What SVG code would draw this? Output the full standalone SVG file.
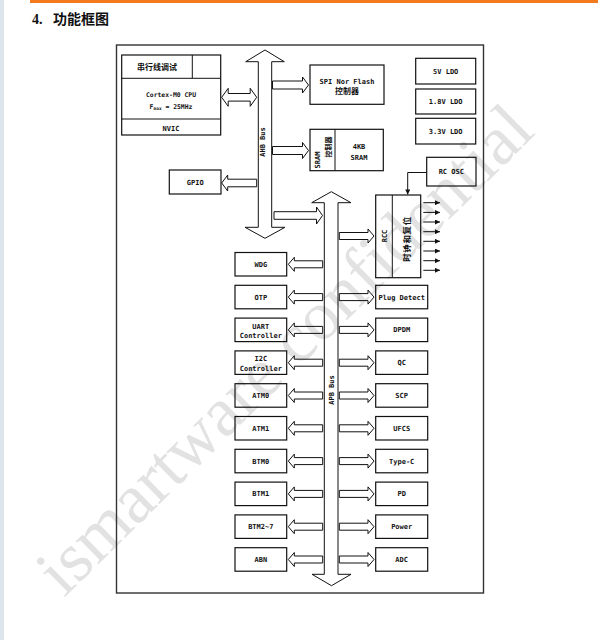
<svg xmlns="http://www.w3.org/2000/svg" width="598" height="640" viewBox="0 0 598 640">
<style>
.box{fill:none;stroke:#111;stroke-width:1.2}
.frame{fill:none;stroke:#333;stroke-width:1.4}
.ar{fill:none;stroke:#111;stroke-width:1}
.ln{fill:none;stroke:#111;stroke-width:1}
.t{font-family:"DejaVu Sans Mono","Liberation Mono",monospace;font-weight:bold;font-size:7px;text-anchor:middle;fill:#111}
.c{font-family:"Noto Sans CJK SC","Noto Sans",sans-serif;font-weight:bold;font-size:8px;text-anchor:middle;fill:#111}
.wm{font-family:"Liberation Serif",serif;font-size:70px;fill:#e2e2e2}
</style>
<defs>
<marker id="ah" viewBox="0 0 10 10" refX="10" refY="5" markerWidth="6" markerHeight="5" markerUnits="userSpaceOnUse" orient="auto"><path d="M0,0 L10,5 L0,10 Z" fill="#111"/></marker>
</defs>
<rect x="0" y="0" width="598" height="640" fill="#fff"/>
<rect x="0" y="0" width="4" height="640" fill="#dde5ec"/>
<rect x="30" y="0" width="568" height="3" fill="#f37a1f"/>
<g id="title">
<text x="32" y="24" style="font-family:'Liberation Serif',serif;font-weight:bold;font-size:14px;fill:#111">4.</text>
<text x="53" y="24" style="font-family:'Noto Sans CJK SC',sans-serif;font-weight:bold;font-size:14px;fill:#111">功能框图</text>
</g>
<text class="wm" transform="translate(64,598) rotate(-44.5)">ismartware confidential</text>
<rect class="frame" x="116.5" y="45" width="367" height="548"/>

<g id="cpu">
<rect class="box" x="121.7" y="55" width="99" height="80"/>
<path class="ln" d="M121.7,78.3 H220.7 M192.3,55 V78.3 M121.7,119 H220.7"/>
<text class="c" x="157" y="69.7">串行线调试</text>
<text class="t" x="171" y="97.4" style="font-size:6.4px">Cortex-M0 CPU</text>
<text class="t" x="171" y="108.5" style="font-size:6.4px">F<tspan style="font-size:4.5px" dy="1.5">max</tspan><tspan dy="-1.5"> = 25MHz</tspan></text>
<text class="t" x="171" y="130.8">NVIC</text>
</g>
<g id="ahb">
<path class="ar" d="M265,50 L284.3,61.7 L271.7,61.7 L271.7,227.3 L285,227.3 L265,238.3 L245,227.3 L258.3,227.3 L258.3,61.7 L245.7,61.7 Z"/>
<text class="t" transform="translate(264.5,142) rotate(-90)">AHB Bus</text>
</g>
<g id="apb">
<path class="ar" d="M331.3,191.7 L351,202.7 L338,202.7 L338,574.3 L351,574.3 L331.5,585.7 L312,574.3 L324.3,574.3 L324.3,202.7 L311.7,202.7 Z"/>
<text class="t" transform="translate(334,390) rotate(-90)">APB Bus</text>
</g>
<g id="spi">
<rect class="box" x="310" y="65" width="74" height="39.3"/>
<text class="t" x="347" y="84.2">SPI Nor Flash</text>
<text class="c" x="347" y="93.7">控制器</text>
</g>
<g id="sram">
<rect class="box" x="310" y="129.3" width="73.3" height="41.4"/>
<path class="ln" d="M335,129.3 V170.7"/>
<text class="t" transform="translate(319.5,160) rotate(-90)">SRAM</text>
<text class="c" transform="translate(330.6,147) rotate(-90)" style="font-size:7px">控制器</text>
<text class="t" x="359" y="148.6">4KB</text>
<text class="t" x="359" y="159.8">SRAM</text>
</g>
<g id="ldo5"><rect class="box" x="415.7" y="58.3" width="60" height="25.7"/><text class="t" x="445.7" y="73.7">5V LDO</text></g>
<g id="ldo18"><rect class="box" x="415.7" y="89" width="60" height="25"/><text class="t" x="445.7" y="104">1.8V LDO</text></g>
<g id="ldo33"><rect class="box" x="415.7" y="118.3" width="60" height="25.7"/><text class="t" x="445.7" y="133.7">3.3V LDO</text></g>
<g id="gpio"><rect class="box" x="169.3" y="170" width="51.7" height="24"/><text class="t" x="195.2" y="184.5">GPIO</text></g>
<g id="rcosc"><rect class="box" x="426.7" y="157.3" width="49.3" height="28.7"/><text class="t" x="451.3" y="174.2">RC OSC</text></g>
<g id="rcc">
<rect class="box" x="375.7" y="195" width="45" height="82.7"/>
<path class="ln" d="M392.3,195 V277.7"/>
<text class="t" transform="translate(386.5,236) rotate(-90)">RCC</text>
<text class="c" transform="translate(409.5,239) rotate(-90)" style="font-size:8.5px;letter-spacing:0.6px">时钟和复位</text>
</g>

<g id="wdg"><rect class="box" x="235" y="252.5" width="51.7" height="23.5"/><text class="t" x="260.8" y="266.8">WDG</text></g>
<g id="otp"><rect class="box" x="235" y="285.3" width="51.7" height="23.5"/><text class="t" x="260.8" y="299.6">OTP</text></g>
<g id="uart"><rect class="box" x="235" y="318.1" width="51.7" height="23.5"/><text class="t" x="260.8" y="328.6">UART</text><text class="t" x="260.8" y="338.3">Controller</text></g>
<g id="i2c"><rect class="box" x="235" y="350.9" width="51.7" height="23.5"/><text class="t" x="260.8" y="361.2">I2C</text><text class="t" x="260.8" y="370.9">Controller</text></g>
<g id="atm0"><rect class="box" x="235" y="383.7" width="51.7" height="23.5"/><text class="t" x="260.8" y="398">ATM0</text></g>
<g id="atm1"><rect class="box" x="235" y="416.5" width="51.7" height="23.5"/><text class="t" x="260.8" y="430.8">ATM1</text></g>
<g id="btm0"><rect class="box" x="235" y="449.3" width="51.7" height="23.5"/><text class="t" x="260.8" y="463.6">BTM0</text></g>
<g id="btm1"><rect class="box" x="235" y="482.1" width="51.7" height="23.5"/><text class="t" x="260.8" y="496.4">BTM1</text></g>
<g id="btm27"><rect class="box" x="235" y="514.9" width="51.7" height="23.5"/><text class="t" x="260.8" y="529.2">BTM2~7</text></g>
<g id="abn"><rect class="box" x="235" y="547.7" width="51.7" height="23.5"/><text class="t" x="260.8" y="562">ABN</text></g>

<g id="plug"><rect class="box" x="375.7" y="285.3" width="52" height="23.5"/><text class="t" x="401.7" y="299.6">Plug Detect</text></g>
<g id="dpdm"><rect class="box" x="375.7" y="318.1" width="52" height="23.5"/><text class="t" x="401.7" y="332.4">DPDM</text></g>
<g id="qc"><rect class="box" x="375.7" y="350.9" width="52" height="23.5"/><text class="t" x="401.7" y="365.2">QC</text></g>
<g id="scp"><rect class="box" x="375.7" y="383.7" width="52" height="23.5"/><text class="t" x="401.7" y="398">SCP</text></g>
<g id="ufcs"><rect class="box" x="375.7" y="416.5" width="52" height="23.5"/><text class="t" x="401.7" y="430.8">UFCS</text></g>
<g id="typec"><rect class="box" x="375.7" y="449.3" width="52" height="23.5"/><text class="t" x="401.7" y="463.6">Type-C</text></g>
<g id="pd"><rect class="box" x="375.7" y="482.1" width="52" height="23.5"/><text class="t" x="401.7" y="496.4">PD</text></g>
<g id="power"><rect class="box" x="375.7" y="514.9" width="52" height="23.5"/><text class="t" x="401.7" y="529.2">Power</text></g>
<g id="adc"><rect class="box" x="375.7" y="547.7" width="52" height="23.5"/><text class="t" x="401.7" y="562">ADC</text></g>

<g id="connectors">
<path class="ar" d="M221.7,97.3 L228.2,88.3 L228.2,93.5 L250.2,93.5 L250.2,88.3 L256.7,97.3 L250.2,106.3 L250.2,101.1 L228.2,101.1 L228.2,106.3 Z"/>
<path class="ar" d="M272.5,81 L302.5,81 L302.5,77 L308.5,85 L302.5,93 L302.5,89 L272.5,89 Z"/>
<path class="ar" d="M272.5,146.5 L302.5,146.5 L302.5,142.5 L308.5,150.5 L302.5,158.5 L302.5,154.5 L272.5,154.5 Z"/>
<path class="ar" d="M221.7,183 L227.7,175 L227.7,179.2 L256.7,179.2 L256.7,186.8 L227.7,186.8 L227.7,191 Z"/>
<path class="ar" d="M274,211.7 L316.5,211.7 L316.5,207 L322.5,215.5 L316.5,224 L316.5,219.3 L274,219.3 Z"/>
<path class="ar" d="M339.3,232.5 L368,232.5 L368,229 L374,236 L368,243 L368,239.5 L339.3,239.5 Z"/>
<path class="ln" d="M426.7,172.5 H407.7 V194.5" marker-end="url(#ah)"/>
<g class="ln" marker-end="url(#ah)">
<path d="M423.3,202.7 H440"/><path d="M423.3,212.4 H440"/><path d="M423.3,222 H440"/><path d="M423.3,231.7 H440"/>
<path d="M423.3,241.3 H440"/><path d="M423.3,251 H440"/><path d="M423.3,260.7 H440"/><path d="M423.3,270.3 H440"/>
</g>
<g class="ar">
<path d="M288.3,264.3 L294.3,257.3 L294.3,260.8 L322.7,260.8 L322.7,267.8 L294.3,267.8 L294.3,271.3 Z"/>
<path d="M288.3,297.1 L294.3,290.1 L294.3,293.6 L322.7,293.6 L322.7,300.6 L294.3,300.6 L294.3,304.1 Z"/>
<path d="M288.3,329.9 L294.3,322.9 L294.3,326.4 L322.7,326.4 L322.7,333.4 L294.3,333.4 L294.3,336.9 Z"/>
<path d="M288.3,362.7 L294.3,355.7 L294.3,359.2 L322.7,359.2 L322.7,366.2 L294.3,366.2 L294.3,369.7 Z"/>
<path d="M288.3,395.5 L294.3,388.5 L294.3,392 L322.7,392 L322.7,399 L294.3,399 L294.3,402.5 Z"/>
<path d="M288.3,428.3 L294.3,421.3 L294.3,424.8 L322.7,424.8 L322.7,431.8 L294.3,431.8 L294.3,435.3 Z"/>
<path d="M288.3,461.1 L294.3,454.1 L294.3,457.6 L322.7,457.6 L322.7,464.6 L294.3,464.6 L294.3,468.1 Z"/>
<path d="M288.3,493.9 L294.3,486.9 L294.3,490.4 L322.7,490.4 L322.7,497.4 L294.3,497.4 L294.3,500.9 Z"/>
<path d="M288.3,526.7 L294.3,519.7 L294.3,523.2 L322.7,523.2 L322.7,530.2 L294.3,530.2 L294.3,533.7 Z"/>
<path d="M288.3,559.5 L294.3,552.5 L294.3,556 L322.7,556 L322.7,563 L294.3,563 L294.3,566.5 Z"/>
<path d="M339.3,293.6 L368,293.6 L368,290.1 L374,297.1 L368,304.1 L368,300.6 L339.3,300.6 Z"/>
<path d="M339.3,326.4 L368,326.4 L368,322.9 L374,329.9 L368,336.9 L368,333.4 L339.3,333.4 Z"/>
<path d="M339.3,359.2 L368,359.2 L368,355.7 L374,362.7 L368,369.7 L368,366.2 L339.3,366.2 Z"/>
<path d="M339.3,392 L368,392 L368,388.5 L374,395.5 L368,402.5 L368,399 L339.3,399 Z"/>
<path d="M339.3,424.8 L368,424.8 L368,421.3 L374,428.3 L368,435.3 L368,431.8 L339.3,431.8 Z"/>
<path d="M339.3,457.6 L368,457.6 L368,454.1 L374,461.1 L368,468.1 L368,464.6 L339.3,464.6 Z"/>
<path d="M339.3,490.4 L368,490.4 L368,486.9 L374,493.9 L368,500.9 L368,497.4 L339.3,497.4 Z"/>
<path d="M339.3,523.2 L368,523.2 L368,519.7 L374,526.7 L368,533.7 L368,530.2 L339.3,530.2 Z"/>
<path d="M339.3,556 L368,556 L368,552.5 L374,559.5 L368,566.5 L368,563 L339.3,563 L339.3,556 Z"/>
</g>
</g>
</svg>
